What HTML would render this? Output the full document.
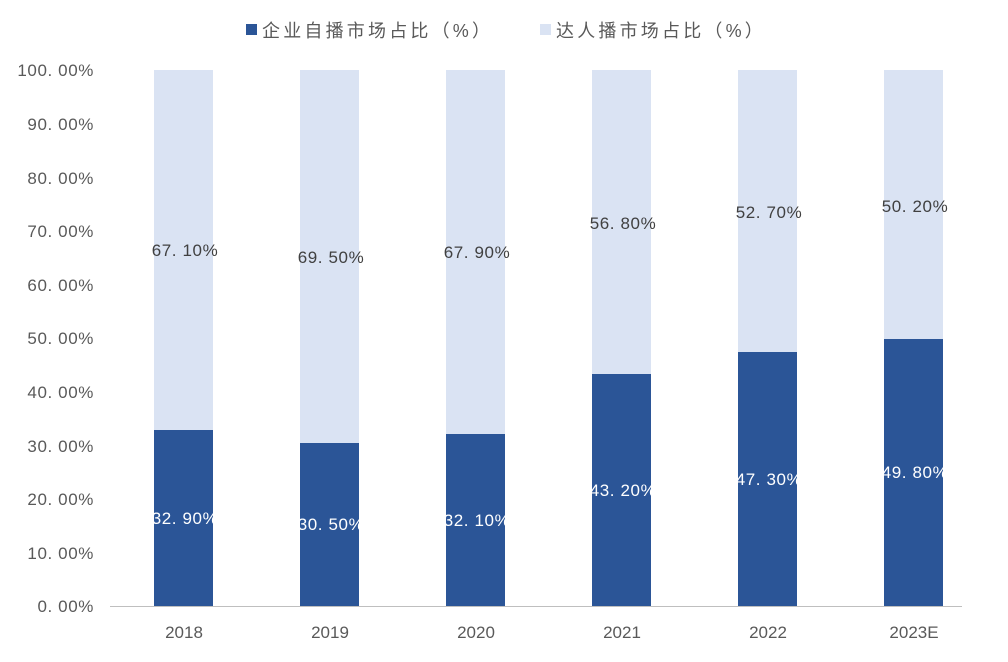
<!DOCTYPE html>
<html><head><meta charset="utf-8"><style>
html,body{margin:0;padding:0;background:#fff;}
svg text{font-family:"Liberation Sans","Noto Sans CJK SC",sans-serif;}
</style></head><body>
<svg width="1008" height="657" viewBox="0 0 1008 657" xmlns="http://www.w3.org/2000/svg">
<rect width="1008" height="657" fill="#fff"/>
<rect x="246" y="24" width="11" height="11" fill="#2B5597"/>
<text x="262" y="37" font-size="18" letter-spacing="3.2" fill="#595959">企业自播市场占比（%）</text>
<rect x="540" y="24" width="11" height="11" fill="#DAE3F3"/>
<text x="556" y="37" font-size="18" letter-spacing="3.2" fill="#595959">达人播市场占比（%）</text>
<g font-size="17" fill="#595959" text-anchor="end" letter-spacing="0.6">
<text x="94" y="76">100. 00%</text>
<text x="94" y="130">90. 00%</text>
<text x="94" y="184">80. 00%</text>
<text x="94" y="237">70. 00%</text>
<text x="94" y="291">60. 00%</text>
<text x="94" y="344">50. 00%</text>
<text x="94" y="398">40. 00%</text>
<text x="94" y="452">30. 00%</text>
<text x="94" y="505">20. 00%</text>
<text x="94" y="559">10. 00%</text>
<text x="94" y="612">0. 00%</text>
</g>
<g>
<rect x="154" y="70" width="59" height="536" fill="#DAE3F3"/>
<rect x="154" y="430" width="59" height="176" fill="#2B5597"/>
<rect x="300" y="70" width="59" height="536" fill="#DAE3F3"/>
<rect x="300" y="443" width="59" height="163" fill="#2B5597"/>
<rect x="446" y="70" width="59" height="536" fill="#DAE3F3"/>
<rect x="446" y="434" width="59" height="172" fill="#2B5597"/>
<rect x="592" y="70" width="59" height="536" fill="#DAE3F3"/>
<rect x="592" y="374" width="59" height="232" fill="#2B5597"/>
<rect x="738" y="70" width="59" height="536" fill="#DAE3F3"/>
<rect x="738" y="352" width="59" height="254" fill="#2B5597"/>
<rect x="884" y="70" width="59" height="536" fill="#DAE3F3"/>
<rect x="884" y="339" width="59" height="267" fill="#2B5597"/>
</g>
<line x1="110" y1="606.5" x2="962" y2="606.5" stroke="#BFBFBF" stroke-width="1"/>
<g font-size="17" fill="#404040" text-anchor="middle" letter-spacing="0.6">
<text x="185" y="256">67. 10%</text>
<text x="331" y="263">69. 50%</text>
<text x="477" y="258">67. 90%</text>
<text x="623" y="229">56. 80%</text>
<text x="769" y="218">52. 70%</text>
<text x="915" y="212">50. 20%</text>
</g>
<g font-size="17" fill="#ffffff" text-anchor="middle" letter-spacing="0.6">
<text x="185" y="524">32. 90%</text>
<text x="331" y="530">30. 50%</text>
<text x="477" y="526">32. 10%</text>
<text x="623" y="496">43. 20%</text>
<text x="769" y="485">47. 30%</text>
<text x="915" y="478">49. 80%</text>
</g>
<g font-size="17" fill="#595959" text-anchor="middle">
<text x="184" y="638">2018</text>
<text x="330" y="638">2019</text>
<text x="476" y="638">2020</text>
<text x="622" y="638">2021</text>
<text x="768" y="638">2022</text>
<text x="914" y="638">2023E</text>
</g>
</svg>
</body></html>
